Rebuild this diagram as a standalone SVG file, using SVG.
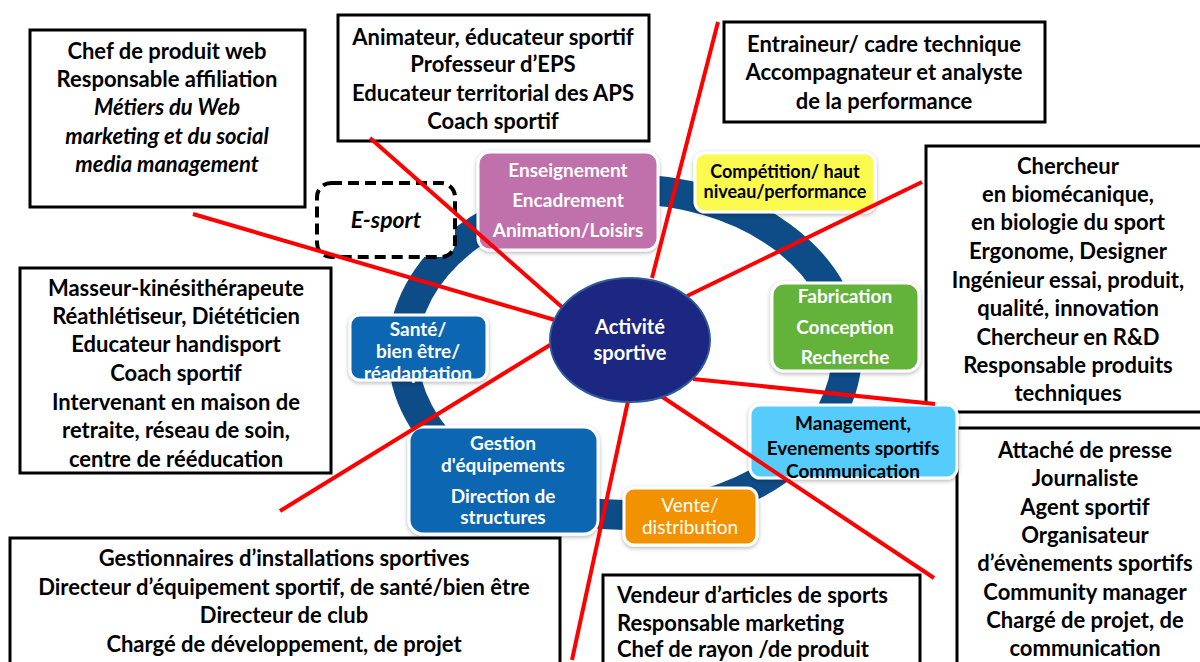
<svg xmlns="http://www.w3.org/2000/svg" width="1200" height="662" viewBox="0 0 1200 662">
<defs>
<filter id="sh" x="-10%" y="-10%" width="120%" height="130%">
<feDropShadow dx="0" dy="1.5" stdDeviation="2" flood-color="#000" flood-opacity="0.3"/>
</filter>
</defs>
<style>
.tb{fill:#fff;stroke:#000;stroke-width:3}
.t{font-family:Lato,"Liberation Sans",sans-serif;font-weight:bold;font-size:22px;fill:#000;text-anchor:middle}
.it{font-style:italic}
.cat{stroke:#fff;stroke-width:3;filter:url(#sh)}
.cw{font-family:Lato,"Liberation Sans",sans-serif;font-weight:bold;font-size:19px;fill:#fff;text-anchor:middle}
.cb{font-family:Lato,"Liberation Sans",sans-serif;font-weight:bold;font-size:19px;fill:#000;text-anchor:middle}
.ln{stroke:#ff0000;stroke-width:4;fill:none}
</style>
<rect width="1200" height="662" fill="#fff"/>
<ellipse id="ring" cx="625" cy="352" rx="222" ry="163" fill="none" stroke="#0e4c88" stroke-width="30"/>

<g id="box-chef">
<rect class="tb" x="30" y="30" width="275" height="177"/>
<text class="t" x="167" y="59">Chef de produit web</text>
<text class="t" x="167" y="87">Responsable affiliation</text>
<text class="t it" x="167" y="115">Métiers du Web</text>
<text class="t it" x="167" y="144">marketing et du social</text>
<text class="t it" x="167" y="172">media management</text>
</g>
<g id="box-animateur">
<rect class="tb" x="338" y="15" width="311" height="126"/>
<text class="t" x="493" y="45">Animateur, éducateur sportif</text>
<text class="t" x="493" y="72">Professeur d’EPS</text>
<text class="t" x="493" y="101">Educateur territorial des APS</text>
<text class="t" x="493" y="129">Coach sportif</text>
</g>
<g id="box-entraineur">
<rect class="tb" x="724" y="22" width="321" height="100"/>
<text class="t" x="884" y="52">Entraineur/ cadre technique</text>
<text class="t" x="884" y="80">Accompagnateur et analyste</text>
<text class="t" x="884" y="109">de la performance</text>
</g>
<g id="box-chercheur">
<rect class="tb" x="926" y="146" width="290" height="266"/>
<text class="t" x="1068" y="174">Chercheur</text>
<text class="t" x="1068" y="202">en biomécanique,</text>
<text class="t" x="1068" y="230">en biologie du sport</text>
<text class="t" x="1068" y="259">Ergonome, Designer</text>
<text class="t" x="1068" y="288">Ingénieur essai, produit,</text>
<text class="t" x="1068" y="316">qualité, innovation</text>
<text class="t" x="1068" y="345">Chercheur en R&amp;D</text>
<text class="t" x="1068" y="373">Responsable produits</text>
<text class="t" x="1068" y="401">techniques</text>
</g>
<g id="box-attache">
<rect class="tb" x="957" y="428" width="260" height="250"/>
<text class="t" x="1085" y="458">Attaché de presse</text>
<text class="t" x="1085" y="486">Journaliste</text>
<text class="t" x="1085" y="515">Agent sportif</text>
<text class="t" x="1085" y="543">Organisateur</text>
<text class="t" x="1085" y="571">d’évènements sportifs</text>
<text class="t" x="1085" y="600">Community manager</text>
<text class="t" x="1085" y="628">Chargé de projet, de</text>
<text class="t" x="1085" y="656">communication</text>
</g>
<g id="box-masseur">
<rect class="tb" x="20" y="268" width="311" height="205"/>
<text class="t" x="176" y="296">Masseur-kinésithérapeute</text>
<text class="t" x="176" y="324">Réathlétiseur, Diététicien</text>
<text class="t" x="176" y="352">Educateur handisport</text>
<text class="t" x="176" y="381">Coach sportif</text>
<text class="t" x="176" y="410">Intervenant en maison de</text>
<text class="t" x="176" y="438">retraite, réseau de soin,</text>
<text class="t" x="176" y="467">centre de rééducation</text>
</g>
<g id="box-gestionnaires">
<rect class="tb" x="10" y="538" width="550" height="140"/>
<text class="t" x="284" y="566">Gestionnaires d’installations sportives</text>
<text class="t" x="284" y="595">Directeur d’équipement sportif, de santé/bien être</text>
<text class="t" x="284" y="623">Directeur de club</text>
<text class="t" x="284" y="652">Chargé de développement, de projet</text>
</g>
<g id="box-vendeur">
<rect class="tb" x="603" y="575" width="317" height="100"/>
<text class="t" x="617" y="603" style="text-anchor:start">Vendeur d’articles de sports</text>
<text class="t" x="617" y="631" style="text-anchor:start">Responsable marketing</text>
<text class="t" x="617" y="657" style="text-anchor:start">Chef de rayon /de produit</text>
</g>

<g id="cat-enseignement">
<rect class="cat" x="478" y="152" width="180" height="98" rx="12" fill="#c070aa"/>
<text class="cw" x="568" y="177">Enseignement</text>
<text class="cw" x="568" y="207">Encadrement</text>
<text class="cw" x="568" y="237">Animation/Loisirs</text>
</g>
<g id="cat-competition">
<rect class="cat" x="695" y="153" width="180" height="59" rx="10" fill="#fafa50"/>
<text class="cb" x="785" y="178" style="font-size:18px">Compétition/ haut</text>
<text class="cb" x="785" y="198" style="font-size:18px">niveau/performance</text>
</g>
<g id="cat-fabrication">
<rect class="cat" x="772" y="283" width="147" height="88" rx="12" fill="#63b33b"/>
<text class="cw" x="845" y="303">Fabrication</text>
<text class="cw" x="845" y="334">Conception</text>
<text class="cw" x="845" y="364">Recherche</text>
</g>
<g id="cat-management">
<rect class="cat" x="750" y="405" width="207" height="73" rx="10" fill="#55ccfb"/>
<text class="cb" x="853" y="430">Management,</text>
<text class="cb" x="853" y="455">Evenements sportifs</text>
<text class="cb" x="853" y="478">Communication</text>
</g>
<g id="cat-vente">
<rect class="cat" x="624" y="488" width="133" height="57" rx="10" fill="#f39200"/>
<text class="cw" x="690" y="512" style="font-weight:normal">Vente/</text>
<text class="cw" x="690" y="534" style="font-weight:normal">distribution</text>
</g>
<g id="cat-gestion">
<rect class="cat" x="409" y="427" width="189" height="107" rx="14" fill="#0866b2"/>
<text class="cw" x="503" y="450">Gestion</text>
<text class="cw" x="503" y="472">d'équipements</text>
<text class="cw" x="503" y="503">Direction de</text>
<text class="cw" x="503" y="524">structures</text>
</g>
<g id="cat-sante">
<rect class="cat" x="350" y="315" width="137" height="65" rx="10" fill="#0866b2"/>
<text class="cw" x="418" y="336">Santé/</text>
<text class="cw" x="418" y="358">bien être/</text>
<text class="cw" x="418" y="380">réadaptation</text>
</g>
<g id="cat-esport">
<rect x="317" y="183" width="138" height="74" rx="14" fill="#fff" stroke="#000" stroke-width="4" stroke-dasharray="11 6"/>
<text class="cb it" x="386" y="228" style="font-size:23px">E-sport</text>
</g>

<g id="connectors">
<line class="ln" x1="370" y1="138" x2="563" y2="308"/>
<line class="ln" x1="193" y1="214" x2="555" y2="320"/>
<line class="ln" x1="718" y1="22" x2="652" y2="278"/>
<line class="ln" x1="922" y1="182" x2="687" y2="296"/>
<line class="ln" x1="693" y1="379" x2="935" y2="404"/>
<line class="ln" x1="658" y1="394" x2="934" y2="578"/>
<line class="ln" x1="628" y1="401" x2="572" y2="660"/>
<line class="ln" x1="550" y1="345" x2="280" y2="511"/>
</g>

<g id="center">
<ellipse cx="630" cy="340" rx="80" ry="62" fill="#1b2780" stroke="#2f5a9e" stroke-width="2"/>
<text class="cw" x="630" y="334" style="font-size:20px">Activité</text>
<text class="cw" x="630" y="360" style="font-size:20px">sportive</text>
</g>
</svg>
